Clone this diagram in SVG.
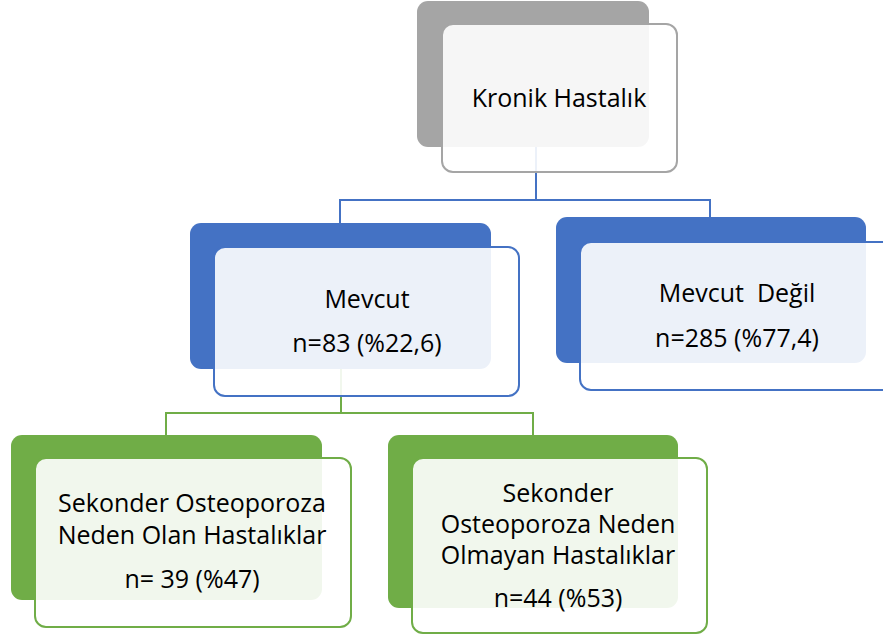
<svg xmlns="http://www.w3.org/2000/svg" width="883" height="640" viewBox="0 0 883 640">
<style>
.front{fill:#ffffff;fill-opacity:0.9;stroke-width:2}
.t{font-family:"Open Sans","Noto Sans",sans-serif;font-size:25px;fill:#000;text-anchor:middle}
.gray .back{fill:#A5A5A5}.gray .front{stroke:#A5A5A5}
.blue .back{fill:#4472C4}.blue .front{stroke:#4472C4}
.green .back{fill:#70AD47}.green .front{stroke:#70AD47}
.c{fill:none;stroke-width:2}
</style>
<rect width="883" height="640" fill="#fff"/>
<g id="connectors">
<path class="c" stroke="#4472C4" d="M536 147V200H340V223M536 200H710V217"/>
<path class="c" stroke="#70AD47" d="M341 369V413H166V435M341 413H533V435"/>
</g>
<g id="kronik" class="gray">
<rect class="back" x="417" y="1" width="232" height="146" rx="11"/>
<rect class="front" x="442" y="24" width="235" height="148" rx="11"/>
<text class="t" x="559" y="107">Kronik Hastalık</text>
</g>
<g id="mevcut" class="blue">
<rect class="back" x="190" y="223" width="301" height="146" rx="11"/>
<rect class="front" x="214" y="247" width="305" height="149" rx="11"/>
<text class="t" x="367" y="308">Mevcut</text>
<text class="t" x="367" y="352">n=83 (%22,6)</text>
</g>
<g id="mevcut-degil" class="blue">
<rect class="back" x="556" y="217" width="310" height="146" rx="11"/>
<rect class="front" x="580" y="242" width="320" height="148" rx="11"/>
<text class="t" x="737" y="302" xml:space="preserve">Mevcut  Değil</text>
<text class="t" x="737" y="347">n=285 (%77,4)</text>
</g>
<g id="sekonder-olan" class="green">
<rect class="back" x="11" y="435" width="311" height="165" rx="11"/>
<rect class="front" x="35" y="458" width="316" height="169" rx="11"/>
<text class="t" x="192" y="512">Sekonder Osteoporoza</text>
<text class="t" x="192" y="544">Neden Olan Hastalıklar</text>
<text class="t" x="192" y="588">n= 39 (%47)</text>
</g>
<g id="sekonder-olmayan" class="green">
<rect class="back" x="388" y="435" width="290" height="173" rx="11"/>
<rect class="front" x="412" y="458" width="295" height="175" rx="11"/>
<text class="t" x="558" y="502">Sekonder</text>
<text class="t" x="558" y="533">Osteoporoza Neden</text>
<text class="t" x="558" y="564">Olmayan Hastalıklar</text>
<text class="t" x="558" y="607">n=44 (%53)</text>
</g>
</svg>
